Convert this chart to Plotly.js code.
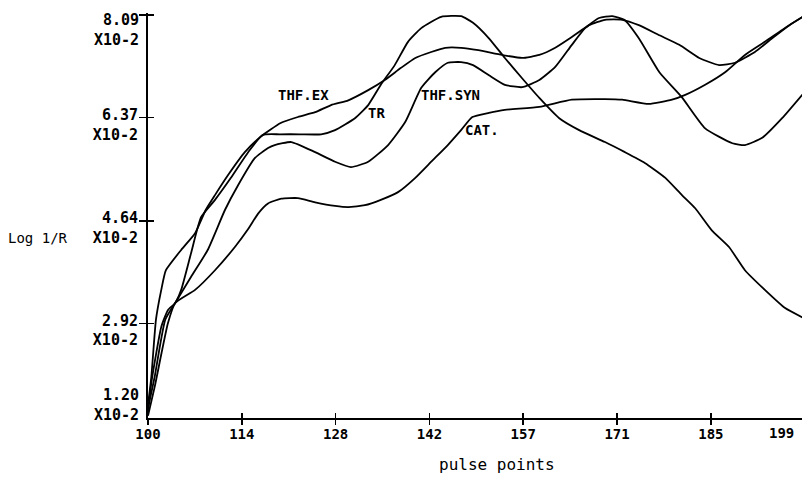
<!DOCTYPE html>
<html>
<head>
<meta charset="utf-8">
<script src="https://cdn.plot.ly/plotly-3.0.1.min.js"></script>
<style>
html,body{margin:0;padding:0;background:#fff;}
#chart{width:802px;height:477px;}
</style>
</head>
<body>
<div id="chart"></div>
<script>
// ---- data ----
const thfExX = [100, 100.5, 101.2, 102, 102.7, 105, 107.1, 108.7, 110.1, 112.1, 114.6, 117, 120, 122.6, 125.2, 127.6, 130.2, 133.2, 135.7, 138.1, 140.3, 142.7, 144.8, 147.2, 149.8, 153.4, 156.4, 159, 161.4, 163.9, 166.5, 168.9, 171.5, 174, 177.1, 180.1, 183.1, 186.1, 188.5, 191.5, 194.1, 196.7, 199];
const thfExY = [1.55, 2.02, 2.98, 3.48, 3.81, 4.15, 4.43, 4.82, 5.07, 5.41, 5.79, 6.05, 6.28, 6.38, 6.46, 6.58, 6.66, 6.83, 7.0, 7.2, 7.37, 7.47, 7.54, 7.54, 7.50, 7.42, 7.37, 7.42, 7.54, 7.72, 7.92, 8.01, 8.01, 7.92, 7.75, 7.59, 7.37, 7.25, 7.29, 7.47, 7.70, 7.92, 8.08];

const trX = [100, 100.5, 102, 103, 104.1, 105, 106.5, 108, 110.1, 112.5, 115.1, 117.3, 119.9, 122.9, 126.1, 128.2, 131.2, 133.2, 135.1, 137.2, 139.2, 141.2, 144.2, 147.2, 149, 151.4, 153.8, 156.4, 159, 162, 165, 168.9, 171.9, 174.9, 178, 180.5, 182.5, 185, 187.6, 190, 193, 196, 199];
const trY = [1.43, 1.92, 2.86, 3.14, 3.26, 3.48, 4.10, 4.70, 4.99, 5.36, 5.79, 6.08, 6.09, 6.09, 6.09, 6.16, 6.36, 6.58, 6.92, 7.25, 7.64, 7.87, 8.06, 8.07, 7.96, 7.70, 7.37, 7.03, 6.70, 6.36, 6.16, 5.96, 5.79, 5.61, 5.36, 5.07, 4.85, 4.48, 4.20, 3.81, 3.48, 3.18, 3.0];

const thfSynX = [100, 101, 102.6, 104.1, 106.5, 109, 111.6, 113.6, 116.1, 118.1, 119.1, 121.6, 125.2, 128.2, 130.6, 133.2, 136.2, 138.8, 141.2, 143.3, 145.2, 147.2, 149, 151.4, 153.8, 156.4, 159, 161.4, 163.9, 165.9, 168, 170, 171.8, 174, 177.1, 180.5, 184, 188.1, 190, 192.6, 195.6, 199];
const thfSynY = [1.50, 2.02, 2.98, 3.26, 3.70, 4.15, 4.82, 5.24, 5.69, 5.86, 5.91, 5.96, 5.79, 5.63, 5.54, 5.63, 5.91, 6.30, 6.87, 7.13, 7.29, 7.30, 7.25, 7.08, 6.92, 6.88, 7.0, 7.22, 7.59, 7.87, 8.04, 8.07, 8.01, 7.70, 7.13, 6.71, 6.19, 5.94, 5.91, 6.03, 6.36, 6.80];

const catX = [100, 101, 103, 104.1, 107.1, 110.1, 113.1, 115.1, 116.6, 118.1, 120.1, 122.6, 125.2, 128.2, 130.2, 132.7, 135.1, 137.7, 140.3, 142.7, 145.2, 147.2, 148.9, 151.4, 153.8, 159, 163.9, 168.9, 171.5, 175.5, 179, 181, 184, 187, 190, 193, 196, 199];
const catY = [1.37, 1.85, 2.92, 3.26, 3.48, 3.81, 4.20, 4.50, 4.76, 4.93, 5.01, 5.02, 4.95, 4.89, 4.87, 4.90, 4.99, 5.12, 5.36, 5.63, 5.91, 6.16, 6.38, 6.45, 6.50, 6.55, 6.67, 6.68, 6.67, 6.60, 6.67, 6.75, 6.92, 7.13, 7.42, 7.64, 7.87, 8.08];

const seriesNames = ["THF.EX", "TR", "THF.SYN", "CAT."];

const xTickVals = [100, 114.143, 128.286, 142.429, 156.571, 170.714, 184.857, 199];
const xTickText = ["100", "114", "128", "142", "157", "171", "185", "199"];
const yTickVals = [1.20, 2.92, 4.64, 6.37, 8.09];
const yTickText = ["1.20<br>X10-2", "2.92<br>X10-2", "4.64<br>X10-2", "6.37<br>X10-2", "8.09<br>X10-2"];

const xTitle = "pulse points";
const yTitle = "Log 1/R";

// ---- chart ----
const FONT = "DejaVu Sans Mono, Liberation Mono, monospace";
const lineStyle = {color: "#000", width: 1.8, shape: "spline", smoothing: 0.5};
const xs = [thfExX, trX, thfSynX, catX];
const ys = [thfExY, trY, thfSynY, catY];

const traces = seriesNames.map((n, i) => ({
  type: "scatter", mode: "lines", name: n, x: xs[i], y: ys[i],
  line: lineStyle, hoverinfo: "skip", showlegend: false
}));
traces.push({type: "scatter", mode: "lines", x: [], y: [], xaxis: "x2", yaxis: "y2", showlegend: false, hoverinfo: "skip"});

const xRange = [100, 198.6];
const yRange = [1.332, 8.124];
const tickFont = {family: FONT, size: 14, color: "#000", weight: "bold"};
const yTickFont = {family: FONT, size: 15, color: "#000", weight: "bold"};
const labelFont = {family: FONT, size: 14, color: "#000", weight: "bold"};

// middle y ticks labelled by the axis; the end labels sit at the axis ends
const yAxisText = yTickText.slice(1, 4).concat([""]);

const layout = {
  width: 802, height: 477,
  margin: {l: 148, r: 0, t: 13, b: 59, pad: 0},
  paper_bgcolor: "#fff", plot_bgcolor: "#fff",
  showlegend: false,
  xaxis: {
    range: xRange, tickmode: "array",
    tickvals: xTickVals.slice(0, 7), ticktext: xTickText.slice(0, 7),
    ticks: "outside", ticklen: 5, tickwidth: 1.5, tickcolor: "#000",
    ticklabelstandoff: -3,
    showline: true, linewidth: 2, linecolor: "#000",
    showgrid: false, zeroline: false,
    tickfont: tickFont
  },
  xaxis2: {
    overlaying: "x", anchor: "y2", range: xRange, tickmode: "array",
    tickvals: xTickVals.slice(0, 7), ticks: "inside", ticklen: 5, tickwidth: 1.5, tickcolor: "#000",
    showticklabels: false, showline: false, showgrid: false, zeroline: false
  },
  yaxis: {
    range: yRange, tickmode: "array",
    tickvals: yTickVals.slice(1), ticktext: yAxisText,
    ticks: "outside", ticklen: 7, tickwidth: 1.5, tickcolor: "#000",
    ticklabelshift: 7, ticklabelstandoff: -2, ticklabeloverflow: "allow",
    showline: true, linewidth: 2, linecolor: "#000",
    showgrid: false, zeroline: false,
    tickfont: yTickFont
  },
  yaxis2: {
    overlaying: "y", anchor: "x2", range: yRange, tickmode: "array",
    tickvals: yTickVals.slice(1), ticks: "inside", ticklen: 6, tickwidth: 1.5, tickcolor: "#000",
    showticklabels: false, showline: false, showgrid: false, zeroline: false
  },
  annotations: [
    {text: seriesNames[0], x: 123.5, y: 6.75, xref: "x", yref: "y", showarrow: false, font: labelFont},
    {text: seriesNames[1], x: 134.4, y: 6.45, xref: "x", yref: "y", showarrow: false, font: labelFont},
    {text: seriesNames[2], x: 145.6, y: 6.75, xref: "x", yref: "y", showarrow: false, font: labelFont},
    {text: seriesNames[3], x: 150.3, y: 6.16, xref: "x", yref: "y", showarrow: false, font: labelFont},
    {text: xTickText[7], x: 0.969, y: -0.036, xref: "paper", yref: "paper", xanchor: "center", yanchor: "middle", showarrow: false, font: tickFont},
    {text: yTickText[0], x: -0.0107, y: 0.032, xref: "paper", yref: "paper", xanchor: "right", yanchor: "middle", align: "right", showarrow: false, font: yTickFont},
    {text: yTickText[4], x: -0.0107, y: 0.958, xref: "paper", yref: "paper", xanchor: "right", yanchor: "middle", align: "right", showarrow: false, font: yTickFont},
    {text: yTitle, x: -0.168, y: 0.444, xref: "paper", yref: "paper", xanchor: "center", yanchor: "middle", showarrow: false, font: {family: FONT, size: 14, color: "#000"}},
    {text: xTitle, x: 0.533, y: -0.116, xref: "paper", yref: "paper", xanchor: "center", yanchor: "middle", showarrow: false, font: {family: FONT, size: 16, color: "#000"}}
  ]
};

Plotly.newPlot("chart", traces, layout, {staticPlot: true, displayModeBar: false});
</script>
</body>
</html>
